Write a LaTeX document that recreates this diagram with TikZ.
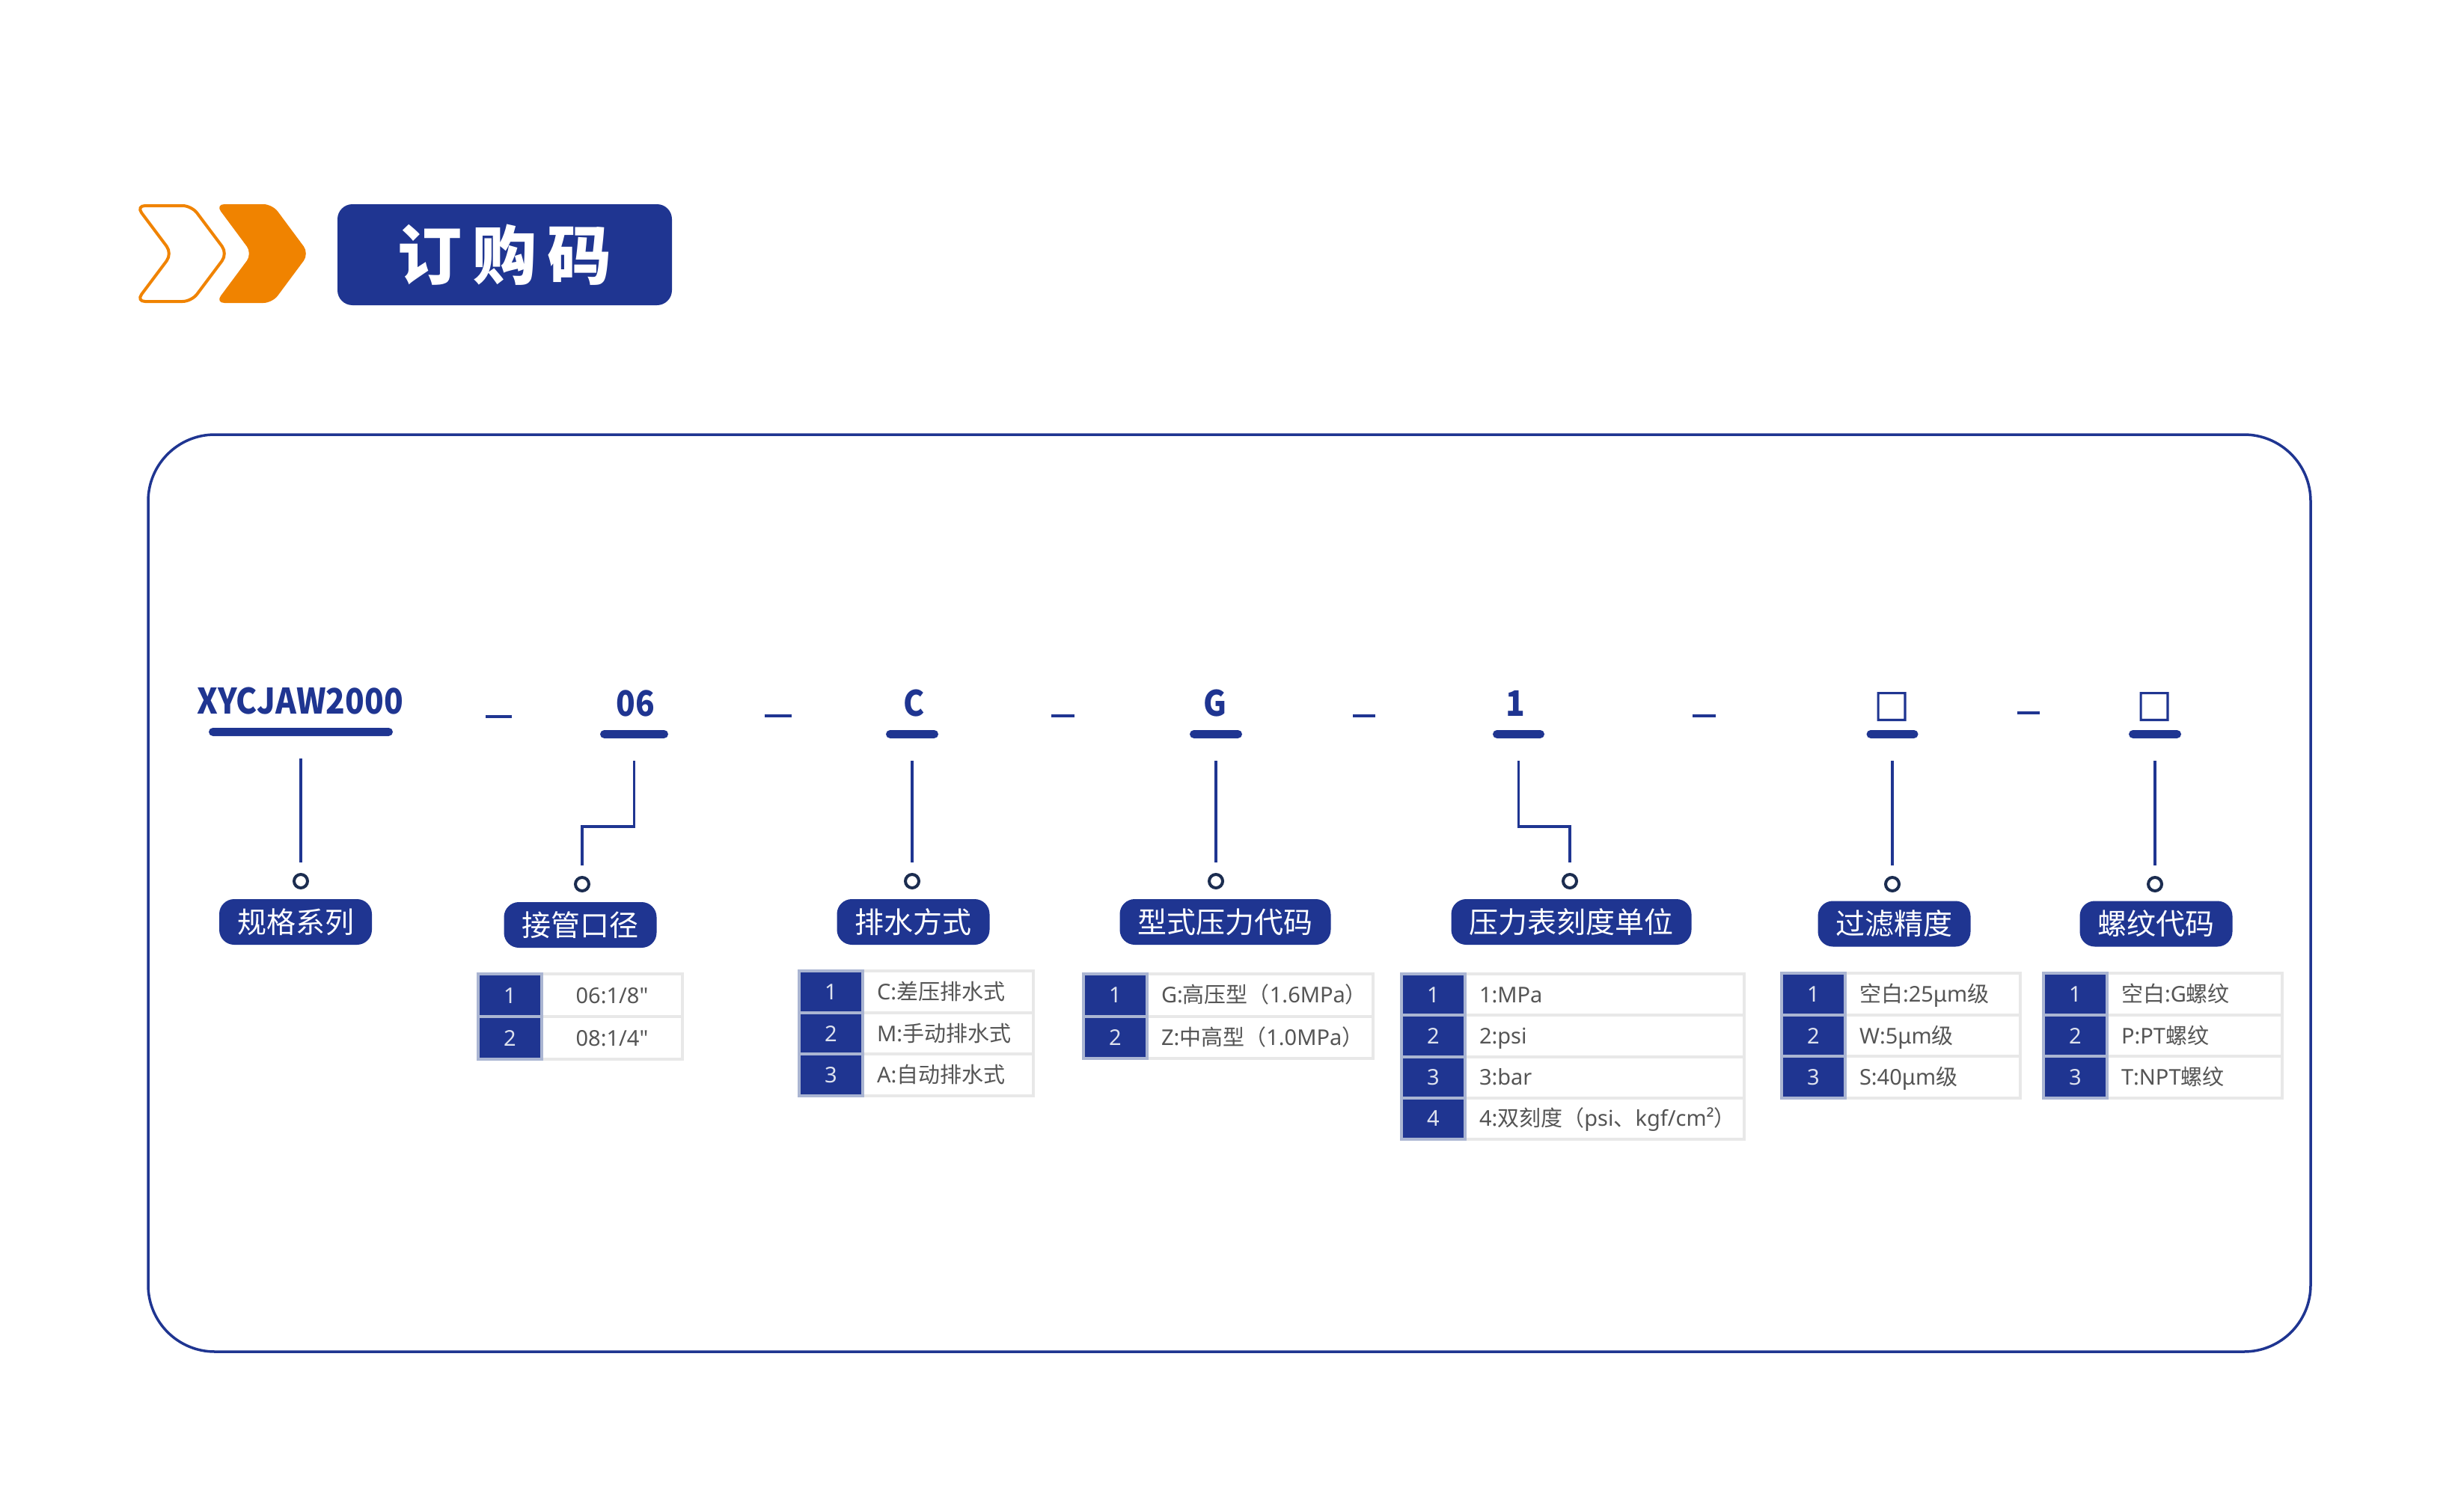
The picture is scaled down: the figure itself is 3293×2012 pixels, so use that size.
\documentclass[tikz,border=0pt]{standalone}
\usepackage{fontspec}
\setmainfont{Noto Sans}
\newfontfamily\plainfont{Noto Sans}
\newfontfamily\cjk{Noto Sans CJK SC}
\newfontfamily\codefont{Noto Sans CJK SC}[FakeStretch=0.9]
\newfontfamily\boxfont{Noto Sans CJK SC}[FakeBold=3]
\definecolor{brand}{RGB}{31,53,145}
\definecolor{orng}{RGB}{240,131,0}
\definecolor{navy}{RGB}{28,45,80}
\definecolor{cellgray}{RGB}{232,232,232}
\definecolor{cellblue}{RGB}{170,181,210}
\definecolor{txtgray}{RGB}{85,85,85}
\definecolor{numwhite}{RGB}{222,226,238}
\tikzset{
  codetxt/.style={font=\codefont\bfseries\fontsize{47}{52}\selectfont, text=brand, inner sep=0pt, anchor=base},
  boxtxt/.style={font=\boxfont\fontsize{47}{52}\selectfont, text=brand, inner sep=0pt},
  codebar/.style={fill=brand, rounded corners=5.5pt, minimum height=11pt, inner sep=0pt, outer sep=30pt},
  sepline/.style={draw=brand, line width=4.5pt},
  conn/.style={draw=brand, line width=3.8pt},
  knob/.style={circle, draw=navy, line width=4pt, minimum size=18pt, inner sep=0pt, outer sep=16pt},
  pill/.style={fill=brand, text=white, rounded corners=20pt, minimum height=61pt, inner xsep=24pt, inner ysep=0pt, font=\cjk\fontsize{39}{45}\selectfont},
  numcell/.style={fill=brand, draw=cellblue, line width=4pt, minimum width=85pt, inner sep=0pt, text=numwhite, font=\fontsize{29}{34}\selectfont, anchor=north west, text height=21pt, text depth=0pt},
  txtcell/.style={fill=white, draw=cellgray, line width=4pt, inner xsep=19pt, inner ysep=0pt, text=txtgray, font=\fontsize{29}{34}\selectfont, anchor=north west, text height=21pt, text depth=0pt},
}
% #1 name, #2 x, #3 y top, #4 text box width, #5 row height, #6 number, #7 text, #8 alignment l/c
\newcommand\trow[8]{%
  \node[txtcell, minimum height=#5pt] (#1t) at (#2+85,#3) {\makebox[#4pt][#8]{#7}};
  \node[numcell, minimum height=#5pt] (#1n) at (#2,#3) {#6};
}
\begin{document}
\begin{tikzpicture}[x=1pt,y=-1pt]
\fill[white] (0,0) rectangle (3293,2012);
\useasboundingbox (0,0) rectangle (3293,2012);

% header
\draw[orng, line width=4pt, rounded corners=12pt] (182,275) -- (256,275) -- (304,339) -- (256,403) -- (182,403) -- (230,339) -- cycle;
\fill[orng, rounded corners=12pt] (288,273) -- (364,273) -- (413,339) -- (364,405) -- (288,405) -- (337,339) -- cycle;
\node[fill=brand, text=white, rounded corners=20pt, minimum width=447pt, minimum height=135pt, inner sep=0pt,
      font=\cjk\bfseries\fontsize{86}{90}\selectfont] (title) at (674.5,340.5) {订\hspace{14pt}购\hspace{14pt}码};

% main frame
\draw[brand, line width=3.5pt, rounded corners=89pt] (198,581) rectangle (3088,1807);

% code row
\node[codetxt] (c1) at (401,954) {XYCJAW2000};
\node[codetxt] (c2) at (849,957) {06};
\node[codetxt] (c3) at (1222,957) {C};
\node[codetxt] (c4) at (1624,957) {G};
\node[codetxt] (c5) at (2025,957) {1};
\node[boxtxt] (c6) at (2528,944.5) {□};
\node[boxtxt] (c7) at (2879,944.5) {□};

\draw[sepline] (649,958) -- (684,958);
\draw[sepline] (1022,957) -- (1058,957);
\draw[sepline] (1405,957) -- (1436,957);
\draw[sepline] (1808,957) -- (1838,957);
\draw[sepline] (2262,957) -- (2293,957);
\draw[sepline] (2696,953) -- (2726,953);

\node[codebar, minimum width=246pt] (b1) at (402,978.5) {};
\node[codebar, minimum width=91pt] (b2) at (847.5,981.5) {};
\node[codebar, minimum width=70pt] (b3) at (1219,981.5) {};
\node[codebar, minimum width=70pt] (b4) at (1625,981.5) {};
\node[codebar, minimum width=69pt] (b5) at (2029.5,981.5) {};
\node[codebar, minimum width=69pt] (b6) at (2529,981.5) {};
\node[codebar, minimum width=70pt] (b7) at (2880,981.5) {};

\node[knob] (k1) at (402,1178) {};
\node[knob] (k2) at (778,1182) {};
\node[knob] (k3) at (1219,1178) {};
\node[knob] (k4) at (1625,1178) {};
\node[knob] (k5) at (2098,1178) {};
\node[knob] (k6) at (2529,1182) {};
\node[knob] (k7) at (2880,1182) {};

\draw[conn] (b1.south) -- (k1.north);
\draw[conn] (b2.south) -- ++(0,88) -| (k2.north);
\draw[conn] (b3.south) -- (k3.north);
\draw[conn] (b4.south) -- (k4.north);
\draw[conn] (b5.south) -- ++(0,88) -| (k5.north);
\draw[conn] (b6.south) -- (k6.north);
\draw[conn] (b7.south) -- (k7.north);

% labels
\node[pill] (p1) at (395,1232.5) {规格系列};
\node[pill] (p2) at (775.5,1236.5) {接管口径};
\node[pill] (p3) at (1220.5,1232.5) {排水方式};
\node[pill] (p4) at (1637.5,1232.5) {型式压力代码};
\node[pill] (p5) at (2100,1232.5) {压力表刻度单位};
\node[pill] (p6) at (2531.5,1235) {过滤精度};
\node[pill] (p7) at (2881.5,1235) {螺纹代码};

% tables
\trow{ta1}{637}{1300}{150}{57}{1}{06:1/8{\plainfont "}}{c}
\trow{ta2}{637}{1357}{150}{57}{2}{08:1/4{\plainfont "}}{c}

\trow{tb1}{1066}{1296}{190}{55.7}{1}{C:{\cjk 差压排水式}}{l}
\trow{tb2}{1066}{1351.7}{190}{55.7}{2}{M:{\cjk 手动排水式}}{l}
\trow{tb3}{1066}{1407.4}{190}{55.7}{3}{A:{\cjk 自动排水式}}{l}

\trow{tc1}{1446}{1300}{264}{56.5}{1}{G:{\cjk 高压型（}1.6MPa{\cjk ）}}{l}
\trow{tc2}{1446}{1356.5}{264}{56.5}{2}{Z:{\cjk 中高型（}1.0MPa{\cjk ）}}{l}

\trow{td1}{1871}{1300}{335}{55.25}{1}{1:MPa}{l}
\trow{td2}{1871}{1355.25}{335}{55.25}{2}{2:psi}{l}
\trow{td3}{1871}{1410.5}{335}{55.25}{3}{3:bar}{l}
\trow{td4}{1871}{1465.75}{335}{55.25}{4}{4:{\cjk 双刻度（}psi{\cjk 、}kgf/cm²{\cjk ）}}{l}

\trow{te1}{2379}{1299}{196}{55.7}{1}{{\cjk 空白}:25μm{\cjk 级}}{l}
\trow{te2}{2379}{1354.7}{196}{55.7}{2}{W:5μm{\cjk 级}}{l}
\trow{te3}{2379}{1410.4}{196}{55.7}{3}{S:40μm{\cjk 级}}{l}

\trow{tf1}{2729}{1299}{196}{55.7}{1}{{\cjk 空白}:G{\cjk 螺纹}}{l}
\trow{tf2}{2729}{1354.7}{196}{55.7}{2}{P:PT{\cjk 螺纹}}{l}
\trow{tf3}{2729}{1410.4}{196}{55.7}{3}{T:NPT{\cjk 螺纹}}{l}
\end{tikzpicture}
\end{document}
